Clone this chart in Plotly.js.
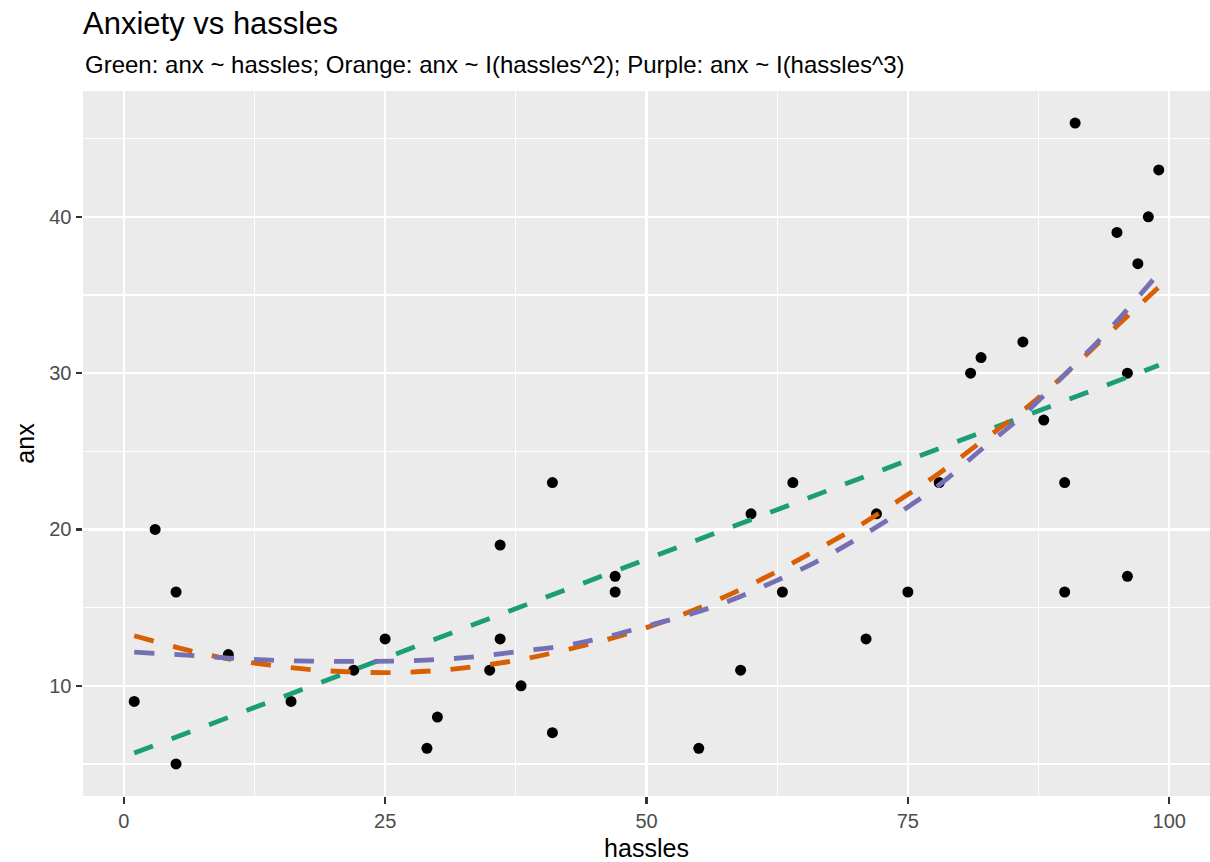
<!DOCTYPE html>
<html>
<head>
<meta charset="utf-8">
<script src="https://cdn.plot.ly/plotly-3.0.1.min.js"></script>
<style>
html,body{margin:0;padding:0;background:#ffffff;}
#chart{width:1210px;height:862px;}
</style>
</head>
<body>
<div id="chart"></div>
<script>
const hassles = [1,3,5,5,10,16,22,25,29,30,35,36,36,38,41,41,47,47,55,59,60,63,64,71,72,75,78,81,82,86,88,90,90,91,95,96,96,97,98,99];
const anx     = [9,20,16,5,12,9,11,13,6,8,11,19,13,10,23,7,17,16,6,11,21,16,23,13,21,16,23,30,31,32,27,23,16,46,39,30,17,37,40,43];

// Fitted curves
const linX  = [1, 99];
const linY  = [5.7, 30.5];
const fitX  = [1,6,10,14,18,22,26,30,34,38,42,46,50,54,58,62,66,70,74,78,82,86,90,94,99];
const quadY = [13.2,12.3,11.72,11.32,11.03,10.88,10.85,10.98,11.27,11.68,12.25,12.92,13.72,14.7,15.85,17.15,18.6,20.1,21.8,23.6,25.6,27.6,29.9,32.4,35.5];
const cubeY = [12.15,11.96,11.77,11.64,11.58,11.56,11.58,11.68,11.88,12.22,12.55,13.1,13.82,14.55,15.45,16.6,17.85,19.35,21.0,22.85,25.1,27.3,29.9,32.6,36.4];

const xTicks = [0,25,50,75,100];
const yTicks = [10,20,30,40];

const FONT = "Liberation Sans, Arial, Helvetica, sans-serif";
const dashStyle = "20px,20px";

const traces = [
  {x: hassles, y: anx, type: "scatter", mode: "markers",
   marker: {color: "#000000", size: 11}, showlegend: false, hoverinfo: "x+y"},
  {x: linX, y: linY, type: "scatter", mode: "lines",
   line: {color: "#1B9E77", width: 4.8, dash: dashStyle}, showlegend: false},
  {x: fitX, y: quadY, type: "scatter", mode: "lines",
   line: {color: "#D95F02", width: 4.8, dash: dashStyle, shape: "spline", smoothing: 1}, showlegend: false},
  {x: fitX, y: cubeY, type: "scatter", mode: "lines",
   line: {color: "#7570B3", width: 4.8, dash: dashStyle, shape: "spline", smoothing: 1}, showlegend: false}
];

const layout = {
  width: 1210, height: 862,
  margin: {l: 83, r: 0, t: 91, b: 66, pad: 0},
  paper_bgcolor: "#ffffff",
  plot_bgcolor: "#EBEBEB",
  font: {family: FONT, color: "#000000"},
  title: {
    text: "Anxiety vs hassles",
    font: {family: FONT, size: 31, color: "#000000"},
    xref: "container", x: 83/1210, xanchor: "left",
    yref: "container", y: 1 - 23/862, yanchor: "middle"
  },
  annotations: [{
    text: "Green: anx ~ hassles; Orange: anx ~ I(hassles^2); Purple: anx ~ I(hassles^3)",
    xref: "paper", yref: "paper", x: 0, y: 1 + (91 - 65)/705,
    xanchor: "left", yanchor: "middle", showarrow: false,
    font: {family: FONT, size: 24, color: "#000000"}
  }],
  xaxis: {
    range: [-3.9, 103.9],
    tickmode: "array", tickvals: xTicks, ticktext: xTicks.map(String),
    ticks: "outside", ticklen: 6.5, tickwidth: 2.2, tickcolor: "#333333",
    tickfont: {family: FONT, size: 20, color: "#4D4D4D"},
    showgrid: true, gridcolor: "#FFFFFF", gridwidth: 2.4,
    minor: {tickmode: "array", tickvals: [12.5, 37.5, 62.5, 87.5], showgrid: true, gridcolor: "#FFFFFF", gridwidth: 1.2, ticks: ""},
    zeroline: false, showline: false,
    title: {text: "hassles", font: {family: FONT, size: 25, color: "#000000"}, standoff: 8}
  },
  yaxis: {
    range: [2.95, 48.05],
    tickmode: "array", tickvals: yTicks, ticktext: yTicks.map(String),
    ticks: "outside", ticklen: 6.5, tickwidth: 2.2, tickcolor: "#333333",
    tickfont: {family: FONT, size: 20, color: "#4D4D4D"},
    showgrid: true, gridcolor: "#FFFFFF", gridwidth: 2.4,
    minor: {tickmode: "array", tickvals: [5, 15, 25, 35, 45], showgrid: true, gridcolor: "#FFFFFF", gridwidth: 1.2, ticks: ""},
    zeroline: false, showline: false,
    title: {text: "anx", font: {family: FONT, size: 25, color: "#000000"}, standoff: 7}
  },
  showlegend: false
};

Plotly.newPlot("chart", traces, layout, {displayModeBar: false, staticPlot: true});
</script>
</body>
</html>
